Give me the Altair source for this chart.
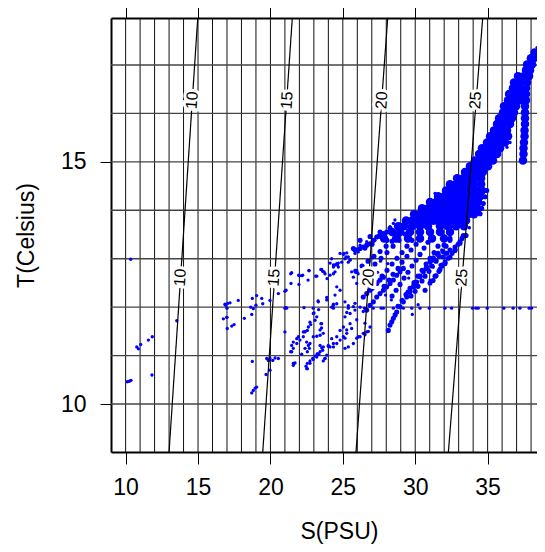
import altair as alt
import pandas as pd

FONT = "Liberation Sans"
BLUE = "#0000ff"

# ---------------- axis / grid values ----------------
s_ticks = [10, 15, 20, 25, 30, 35]
t_ticks = [10, 15]
grid_s = list(range(10, 39))
grid_t = list(range(10, 18))
s_domain = [8.99, 38.41]
t_domain = [9.01, 17.97]

# ---------------- isopycnals (sigma-t) ----------------
sigma = [10, 15, 20, 25, 30]
sig_s_bottom = [13.00, 19.47, 25.91, 32.29, 38.74]
sig_s_top = [14.98, 21.51, 28.10, 34.66, 41.30]
sig_t_bottom = 9.01
sig_t_top = 17.97

lab_sigma = [10, 15, 20, 25]
lab_up_s = [14.60, 21.15, 27.69, 34.17]
lab_up_t = 16.27
lab_lo_s = [13.78, 20.25, 26.78, 33.22]
lab_lo_t = 12.61

# ---------------- observations: scattered (S, T) ----------------
scatter_pts = [
    (10.35, 12.99), (13.53, 11.72), (16.90, 12.04), (17.05, 12.08), (16.75, 11.76), (17.00, 11.79),
    (17.02, 11.56), (10.77, 11.18), (10.88, 11.14), (11.04, 11.23), (11.57, 11.32), (11.84, 11.39),
    (11.82, 10.60), (10.12, 10.46), (10.26, 10.47), (10.37, 10.49),
    (16.86, 12.06), (17.21, 12.09), (16.98, 11.79), (17.33, 11.61), (17.49, 11.64), (17.78, 12.14),
    (18.20, 11.77), (18.75, 12.18), (19.05, 12.24), (18.64, 12.00), (18.82, 11.97), (19.00, 12.04),
    (18.71, 11.85), (19.40, 12.18), (19.47, 12.07), (19.97, 12.14), (20.55, 12.28), (21.00, 12.33),
    (21.08, 12.35), (21.40, 12.69), (21.42, 12.49), (21.95, 12.66), (21.97, 12.47), (22.23, 12.66),
    (22.60, 12.56), (22.66, 12.76), (23.20, 12.64), (23.54, 12.78), (23.70, 12.73), (23.77, 12.69),
    (23.91, 12.59), (24.12, 12.91), (24.35, 12.87), (24.58, 12.90), (24.46, 12.73), (24.69, 12.83),
    (21.08, 11.99), (22.32, 11.99), (23.01, 11.88), (23.29, 12.13), (23.33, 11.95), (23.89, 12.20),
    (23.08, 11.73), (23.49, 11.66), (23.53, 11.57), (22.73, 11.69), (22.78, 11.64), (22.55, 11.52),
    (22.39, 11.50), (22.27, 11.49), (21.00, 11.49), (21.93, 11.39), (21.82, 11.35), (21.58, 11.28),
    (21.47, 11.21), (22.50, 11.28), (22.62, 11.21), (22.73, 11.25), (22.39, 11.15), (22.96, 11.39),
    (23.20, 11.40), (23.43, 11.42), (23.65, 11.46), (21.40, 11.08), (22.16, 11.03), (22.55, 11.08),
    (22.69, 11.15), (23.43, 11.21), (23.54, 11.16), (23.61, 11.11), (23.34, 11.03), (23.20, 10.97),
    (24.12, 11.18), (24.00, 11.21), (23.89, 11.01), (23.77, 10.94), (23.65, 10.89), (23.24, 11.04),
    (23.08, 10.99), (22.92, 10.94), (22.73, 10.89), (22.55, 10.84), (22.46, 10.78), (22.55, 10.73),
    (21.63, 10.84), (21.70, 10.85), (21.58, 10.80), (18.75, 10.88), (19.74, 10.94), (19.86, 10.90),
    (19.97, 10.94), (20.16, 10.90), (20.32, 10.95), (20.55, 10.94), (19.70, 10.61), (19.97, 10.70),
    (18.71, 10.23), (18.82, 10.28), (18.94, 10.33), (19.05, 10.35),
    (21.47, 12.71), (22.00, 12.65), (22.16, 12.65), (22.67, 12.75), (23.13, 12.64), (23.48, 12.78),
    (23.61, 12.74), (24.35, 12.83), (24.63, 12.87), (24.81, 13.11), (25.04, 13.09), (25.22, 13.04),
    (25.38, 12.93), (25.50, 12.98), (25.73, 13.21), (25.84, 13.11), (26.07, 13.14), (26.19, 13.28),
    (26.53, 13.24), (26.65, 13.35), (26.88, 13.45), (27.22, 13.38), (27.45, 13.48), (27.57, 13.44),
    (27.80, 13.52), (28.03, 13.55), (28.26, 13.66), (28.49, 13.73), (28.60, 13.80),
    (23.31, 12.11), (23.89, 12.15), (24.35, 12.06), (25.15, 12.11), (25.38, 12.03), (25.73, 12.01),
    (25.27, 11.89), (25.84, 12.08), (26.41, 11.91), (26.53, 11.67), (25.96, 11.74), (25.61, 11.56),
    (25.27, 11.53), (25.15, 11.36), (25.96, 11.36), (26.19, 11.39), (26.53, 11.43), (26.76, 11.50),
    (22.62, 11.59), (22.39, 11.49), (22.27, 11.39), (22.04, 11.32), (21.82, 11.25), (21.58, 11.15),
    (21.47, 11.08), (21.58, 10.84), (22.51, 10.73), (22.73, 10.84), (22.96, 10.92), (23.20, 11.01),
    (23.43, 11.08), (23.77, 10.94), (23.65, 11.18), (24.00, 11.19), (23.43, 11.53), (23.54, 11.66),
    (23.20, 11.80), (22.96, 11.87), (24.23, 11.35), (24.35, 11.18), (24.58, 11.25), (24.81, 11.32),
    (25.04, 11.39), (25.27, 11.46), (25.15, 11.15), (25.38, 11.18), (25.73, 11.25), (26.07, 11.39),
    (26.41, 11.46), (26.65, 11.49), (26.88, 11.59),
    (24.23, 13.00), (24.46, 12.87), (24.69, 12.91), (24.92, 12.93), (25.08, 13.11), (25.27, 13.12),
    (25.15, 13.00), (25.38, 13.04), (25.50, 12.97), (24.12, 12.66), (24.35, 12.69), (24.58, 12.42),
    (24.81, 12.35), (24.46, 12.25), (24.23, 12.00), (24.35, 12.04), (24.58, 12.07),
    (25.61, 12.73), (25.84, 12.76), (25.73, 12.62), (25.96, 12.49), (26.07, 12.69), (26.30, 12.56),
    (26.41, 12.62), (26.53, 12.45), (25.15, 11.80), (25.50, 11.87), (25.84, 11.94), (26.19, 12.00),
    (25.50, 11.66), (25.04, 11.59), (24.58, 11.39), (24.35, 11.25), (24.81, 11.52),
    (31.37, 14.35), (31.25, 13.73), (31.60, 13.59), (31.83, 13.18), (31.49, 12.97), (31.25, 12.83),
    (31.71, 12.87), (31.02, 12.56), (33.74, 13.64), (36.34, 15.30), (36.55, 15.40), (38.41, 17.36),
    (27.05, 13.02), (27.60, 12.95), (26.95, 12.80), (27.40, 12.72), (28.10, 12.90), (27.95, 12.25),
    (28.35, 12.15), (27.65, 11.98), (29.80, 11.85), (30.20, 12.05), (29.55, 12.60), (30.05, 12.98),
]

# streaks of closely packed observations
streak_pts = [
    (26.41, 12.21), (26.65, 12.28), (26.88, 12.35), (27.11, 12.42), (27.34, 12.49), (27.57, 12.56),
    (27.80, 12.62),
    (26.65, 11.94), (26.88, 12.04), (27.11, 12.11), (27.34, 12.21), (27.57, 12.28), (27.80, 12.35),
    (28.03, 12.42), (28.26, 12.49), (28.49, 12.56), (28.72, 12.66), (28.95, 12.73), (29.18, 12.80),
    (28.14, 11.52), (28.26, 11.63), (28.38, 11.70), (28.49, 11.77), (28.61, 11.84), (28.72, 11.90),
    (28.95, 12.01), (29.18, 12.11), (29.41, 12.21), (29.64, 12.32), (29.87, 12.42), (30.10, 12.52),
    (30.33, 12.63), (30.56, 12.73), (30.79, 12.83), (31.02, 12.94), (31.25, 13.02), (31.50, 13.10),
    (25.73, 13.21), (25.96, 13.18), (26.19, 13.21), (26.41, 13.24), (26.65, 13.28), (26.88, 13.31),
    (27.11, 13.38), (27.34, 13.45), (27.57, 13.48), (27.80, 13.52), (28.03, 13.55),
    (33.51, 13.48), (33.09, 13.32), (32.75, 13.17), (32.40, 13.03), (32.06, 12.90), (31.71, 12.78),
    (31.37, 12.64), (31.02, 12.50), (30.68, 12.35),
    (32.40, 13.42), (31.99, 13.28), (31.58, 13.11), (31.16, 12.97), (30.75, 12.80), (30.33, 12.64),
    (29.92, 12.47), (29.50, 12.31),
    (34.48, 13.93), (34.36, 13.97), (34.59, 14.04), (34.70, 14.14), (34.82, 14.28), (34.94, 14.41),
    (33.32, 13.48), (33.09, 13.35), (32.75, 13.24), (32.40, 13.18), (32.17, 13.11), (31.94, 13.04),
    (31.83, 12.87),
    (33.23, 13.42), (32.96, 13.30), (32.75, 13.19), (32.54, 13.11), (32.27, 13.01), (32.06, 12.93),
    (31.85, 12.85), (31.64, 12.74), (31.44, 12.65), (31.23, 12.55),
    (32.40, 13.38), (32.13, 13.26), (31.92, 13.15), (31.64, 13.05), (31.44, 12.95), (31.16, 12.85),
    (30.95, 12.74), (30.68, 12.64), (30.47, 12.54), (30.19, 12.43), (29.99, 12.33), (29.71, 12.23),
    (30.88, 13.34), (30.61, 13.22), (30.33, 13.09), (30.06, 12.97), (29.78, 12.85), (29.50, 12.72),
    (29.23, 12.60), (28.95, 12.47), (28.68, 12.35), (28.40, 12.23),
    (29.78, 13.38), (29.43, 13.26), (29.09, 13.13), (28.74, 13.01), (28.40, 12.89), (28.05, 12.76),
    (27.71, 12.64), (27.36, 12.51), (27.02, 12.39),
    (28.81, 13.46), (28.40, 13.36), (27.99, 13.26), (27.57, 13.15), (27.15, 13.05), (26.74, 12.95),
    (26.33, 12.85), (25.91, 12.74),
    (30.33, 13.42), (30.06, 13.30), (29.71, 13.18), (29.43, 13.05), (29.09, 12.93), (28.81, 12.80),
    (28.47, 12.68), (28.19, 12.56), (27.85, 12.43),
    (29.30, 13.51), (28.88, 13.38), (28.47, 13.26), (28.05, 13.13), (27.64, 13.01), (27.22, 12.89),
    (26.81, 12.76),
    (31.57, 13.26), (31.30, 13.13), (31.02, 13.01), (30.75, 12.89), (30.47, 12.76), (30.19, 12.64),
    (29.92, 12.51), (29.64, 12.39), (29.36, 12.26), (29.09, 12.14), (28.81, 12.02),
    (26.19, 13.38), (26.88, 13.46), (27.57, 13.55), (28.26, 13.63), (27.02, 13.30), (28.05, 13.38),
    (28.74, 13.51), (26.53, 13.22), (25.84, 13.18),
]

# observations along T = 11.98
flat_t = 11.98
flat_s = [17.00, 21.00, 21.12, 22.96, 24.35, 25.38, 26.50, 27.10, 27.80, 28.49, 29.18, 29.76,
          30.33, 30.97, 32.05, 32.51, 33.96, 34.19, 34.35, 34.97, 36.12, 36.76, 37.23, 37.87,
          38.03, 38.60]

# dense core of the cloud: temperature rows and salinities on each row
core_t = [17.26, 17.14, 17.01, 16.89, 16.77, 16.64, 16.52, 16.40, 16.27, 16.15, 16.02, 15.90,
          15.78, 15.65, 15.53, 15.40, 15.28, 15.16, 15.03, 14.91, 14.79, 14.66, 14.54, 14.41,
          14.29, 14.17, 14.04, 13.92, 13.79, 13.67, 13.55, 13.42]
core_s = [
    [38.24],
    [37.99, 38.20],
    [37.72, 38.07],
    [37.65, 37.93],
    [37.10, 37.51, 37.86],
    [36.82, 37.24, 37.72],
    [36.75, 37.17, 37.65],
    [36.48, 36.89, 37.31, 37.65],
    [36.41, 36.82, 37.24, 37.65],
    [36.13, 36.55, 36.96, 37.58],
    [36.06, 36.48, 36.82, 37.58],
    [35.79, 36.20, 36.68, 37.58],
    [35.65, 36.06, 36.55, 37.58],
    [35.44, 35.86, 36.34, 37.55],
    [35.17, 35.58, 36.00, 36.41, 37.55],
    [34.96, 35.37, 35.79, 36.20, 37.51],
    [34.61, 35.03, 35.44, 35.86, 37.48],
    [34.41, 34.82, 35.23, 35.65, 37.48],
    [34.13, 34.55, 34.96, 35.37, 37.44],
    [33.78, 34.20, 34.61, 35.03],
    [33.44, 33.85, 34.27, 34.68],
    [32.89, 33.30, 33.72, 34.13, 34.55],
    [32.40, 32.82, 33.23, 33.65, 34.06, 34.55],
    [32.13, 32.54, 32.96, 33.37, 33.78, 34.20, 34.61],
    [31.58, 32.00, 32.40, 32.82, 33.23, 33.65, 34.06, 34.48],
    [31.02, 31.44, 31.85, 32.27, 32.68, 33.09, 33.51, 33.92, 34.34],
    [30.47, 30.88, 31.30, 31.71, 32.13, 32.54, 32.96, 33.37, 33.78, 34.27],
    [29.92, 30.33, 30.75, 31.16, 31.58, 31.99, 32.40, 32.82, 33.23, 33.65, 34.06],
    [29.37, 29.78, 30.19, 30.61, 31.02, 31.44, 31.85, 32.27, 32.68, 33.09, 33.51],
    [28.82, 29.23, 29.78, 30.33, 30.88, 31.71, 32.27, 32.82, 33.37],
    [28.40, 28.95, 29.64, 30.33, 31.02, 31.71, 32.40],
    [27.85, 28.68, 29.50, 30.33, 31.16, 31.99],
]

# ---------------- tables ----------------
df_gs = pd.DataFrame({"S": grid_s})
df_gt = pd.DataFrame({"T": grid_t})
df_iso = pd.DataFrame(
    [{"sigma": g, "S": sb, "T": sig_t_bottom} for g, sb in zip(sigma, sig_s_bottom)]
    + [{"sigma": g, "S": st, "T": sig_t_top} for g, st in zip(sigma, sig_s_top)]
)
df_lab = pd.DataFrame(
    [{"txt": str(g), "S": s, "T": lab_up_t} for g, s in zip(lab_sigma, lab_up_s)]
    + [{"txt": str(g), "S": s, "T": lab_lo_t} for g, s in zip(lab_sigma, lab_lo_s)]
)
df_sc = pd.DataFrame(scatter_pts + [(s, flat_t) for s in flat_s], columns=["S", "T"])
df_st = pd.DataFrame(streak_pts, columns=["S", "T"])
df_core = pd.DataFrame([(s, t) for t, row in zip(core_t, core_s) for s in row], columns=["S", "T"])

xs = alt.Scale(domain=s_domain, nice=False, zero=False)
ys = alt.Scale(domain=t_domain, nice=False, zero=False)

axis_common = dict(
    domainColor="black", domainWidth=2, tickColor="black", tickWidth=1,
    labelFont=FONT, titleFont=FONT, labelFontSize=23, titleFontSize=23,
    labelColor="black", titleColor="black", titleFontWeight="normal", grid=False,
)

x_bottom = alt.Axis(
    values=s_ticks, orient="bottom", title="S(PSU)", tickSize=12, labelPadding=30,
    labelBaseline="alphabetic", titleX=228, titleY=86, titleBaseline="alphabetic",
    titleAlign="center", **axis_common,
)
x_top = alt.Axis(
    values=s_ticks, orient="top", title=None, labels=False, tickSize=12, **axis_common,
)
y_left = alt.Axis(
    values=t_ticks, orient="left", title="T(Celsius)", tickSize=11, labelPadding=14,
    labelBaseline="middle", titleX=-78, titleY=217, titleAngle=270,
    titleBaseline="alphabetic", titleAlign="center", **axis_common,
)


def pts(df, size):
    return alt.Chart(df).mark_circle(color=BLUE, opacity=1, size=size).encode(
        x=alt.X("S:Q", scale=xs, axis=None), y=alt.Y("T:Q", scale=ys, axis=None)
    )


vgrid = alt.Chart(df_gs).mark_rule(color="#111111", strokeWidth=1).encode(
    x=alt.X("S:Q", scale=xs, axis=x_bottom)
)
hgrid = alt.Chart(df_gt).mark_rule(color="#444444", strokeWidth=1.4).encode(
    y=alt.Y("T:Q", scale=ys, axis=y_left)
)
core = pts(df_core, 72)
streaks = pts(df_st, 26)
scat = pts(df_sc, 11)
iso = alt.Chart(df_iso).mark_line(color="black", strokeWidth=1.2, clip=True).encode(
    x=alt.X("S:Q", scale=xs, axis=x_top), y=alt.Y("T:Q", scale=ys, axis=None),
    detail="sigma:N", order="T:Q",
)
halo = alt.Chart(df_lab).mark_text(
    angle=274, font=FONT, fontSize=16, color="white", stroke="white", strokeWidth=6,
    align="center", baseline="middle",
).encode(x=alt.X("S:Q", scale=xs, axis=None), y=alt.Y("T:Q", scale=ys, axis=None), text="txt:N")
labels = alt.Chart(df_lab).mark_text(
    angle=274, font=FONT, fontSize=16, color="black", align="center", baseline="middle",
).encode(x=alt.X("S:Q", scale=xs, axis=None), y=alt.Y("T:Q", scale=ys, axis=None), text="txt:N")

chart = (
    alt.layer(vgrid, hgrid, core, streaks, scat, iso, halo, labels)
    .resolve_axis(x="independent", y="independent")
    .properties(
        width=426, height=434,
        autosize=alt.AutoSizeParams(type="none"),
        padding={"left": 103, "top": 10, "right": 0, "bottom": 92},
        background="white",
    )
    .configure_view(stroke=None)
)

chart.save("out.html", embed_options={"renderer": "svg", "actions": False})
